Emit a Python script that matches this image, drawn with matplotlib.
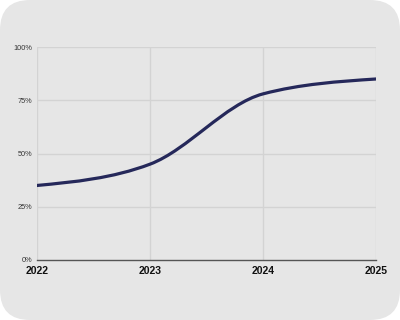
import matplotlib
matplotlib.use("Agg")
import matplotlib.pyplot as plt
from matplotlib.patches import FancyBboxPatch, PathPatch
from matplotlib.path import Path
import numpy as np

years = [2022, 2023, 2024, 2025]
values = [35, 45, 78, 85]
y_ticks = [0, 25, 50, 75, 100]
y_labels = ["0%", "25%", "50%", "75%", "100%"]

LINE = "#25285a"
GRID = "#d3d3d3"
BG = "#e6e6e6"

plt.rcParams["font.family"] = ["Liberation Sans", "DejaVu Sans"]


def monotone_path(x, y):
    # monotone cubic (d3 curveMonotoneX style) as bezier segments
    x = np.asarray(x, float)
    y = np.asarray(y, float)
    h = np.diff(x)
    s = np.diff(y) / h
    t = np.zeros(len(x))
    for i in range(1, len(x) - 1):
        p = (s[i - 1] * h[i] + s[i] * h[i - 1]) / (h[i - 1] + h[i])
        t[i] = (np.sign(s[i - 1]) + np.sign(s[i])) * min(abs(s[i - 1]), abs(s[i]), 0.5 * abs(p))
    t[0] = (3 * s[0] - t[1]) / 2
    t[-1] = (3 * s[-1] - t[-2]) / 2
    verts = [(x[0], y[0])]
    codes = [Path.MOVETO]
    for i in range(len(x) - 1):
        d = h[i] / 3
        verts += [(x[i] + d, y[i] + t[i] * d), (x[i + 1] - d, y[i + 1] - t[i + 1] * d), (x[i + 1], y[i + 1])]
        codes += [Path.CURVE4] * 3
    return Path(verts, codes)


fig = plt.figure(figsize=(4, 3.2), dpi=100)
fig.patch.set_facecolor("white")
bg = FancyBboxPatch((0.0, 0.0), 1.0, 1.0, boxstyle="round,pad=0,rounding_size=0.075",
                    transform=fig.transFigure, facecolor=BG, edgecolor="none", zorder=-1,
                    mutation_aspect=1.25)
fig.patches.append(bg)

ax = fig.add_axes([0.0925, 0.1875, 0.8475, 0.6655])
ax.set_facecolor("none")
ax.set_xlim(years[0], years[-1])
ax.set_ylim(0, 100)

for v in y_ticks[1:]:
    ax.axhline(v, color=GRID, lw=1, zorder=0)
for yr in years:
    ax.axvline(yr, color=GRID, lw=1, zorder=0)

ax.add_patch(PathPatch(monotone_path(years, values), facecolor="none", edgecolor=LINE,
                       lw=2.3, capstyle="round", zorder=3))

for side in ["top", "right", "left"]:
    ax.spines[side].set_visible(False)
ax.spines["bottom"].set_color("#555555")
ax.spines["bottom"].set_linewidth(1)

ax.set_xticks(years)
ax.set_xticklabels([str(y) for y in years], fontsize=7.5, color="#111111", fontweight="bold")
ax.set_yticks(y_ticks)
ax.set_yticklabels(y_labels, fontsize=5.3, color="#333333")
ax.tick_params(axis="both", length=0)
ax.tick_params(axis="x", pad=4)
ax.tick_params(axis="y", pad=3.5)

fig.savefig("out.png", dpi=100)
